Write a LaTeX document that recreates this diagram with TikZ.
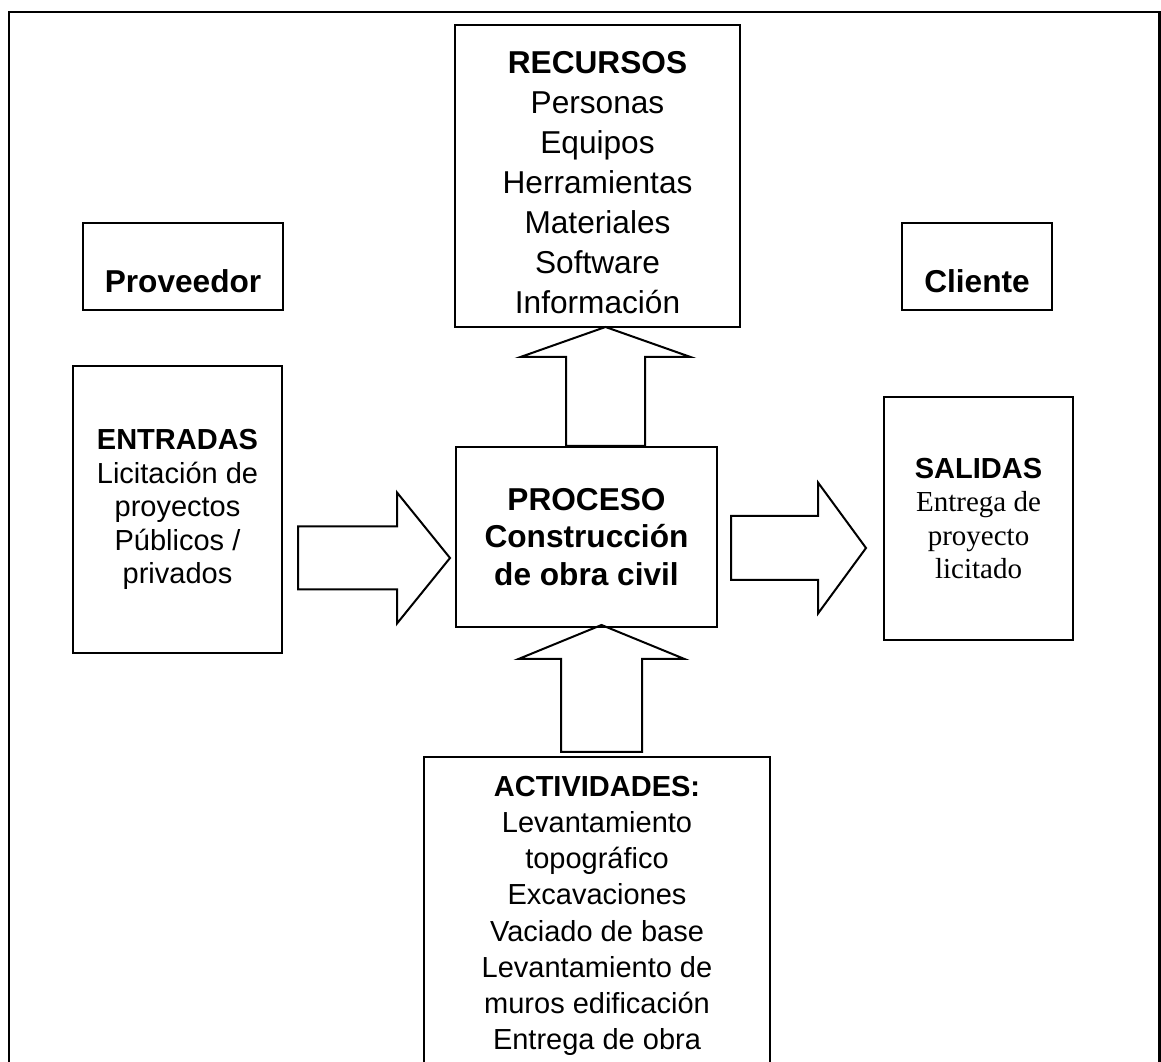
\documentclass[tikz,border=0pt]{standalone}
\usepackage{fontspec}
\setmainfont{Liberation Sans}
\newfontfamily\timesfont{Liberation Serif}

\begin{document}
\begin{tikzpicture}[
    procbox/.style={draw, line width=0.040000cm, inner sep=0pt, outer sep=0pt, align=center},
    blockarrow/.style={draw, line width=0.040000cm, line join=miter}]
            \useasboundingbox (0,0) rectangle (23.220000,21.220000);
            \clip (0,0) rectangle (23.220000,21.220000);

            % Drawing outer frame (open at the lower edge)
            \draw [line width=0.054000cm] (0.180000,-0.500000) -- (0.180000,20.980000) -- (23.190000,20.980000) -- (23.190000,-0.500000);%

            % Marking box RECURSOS
            \node [procbox, minimum width=5.700000cm, minimum height=6.040000cm, font=\fontsize{18}{22.8}\selectfont] (recursos) at (11.950000,17.700000) {\textbf{\rule{0pt}{0.700000cm}RECURSOS}\\Personas\\Equipos\\Herramientas\\Materiales\\Software\\Información};%

            % Marking box Proveedor
            \node [procbox, minimum width=4.000000cm, minimum height=1.740000cm, font=\fontsize{18}{21.6}\selectfont\bfseries] (proveedor) at (3.660000,15.890000) {\rule{0pt}{1.064000cm}Proveedor};%

            % Marking box Cliente
            \node [procbox, minimum width=3.000000cm, minimum height=1.740000cm, font=\fontsize{18}{21.6}\selectfont\bfseries] (cliente) at (19.540000,15.890000) {\rule{0pt}{1.064000cm}Cliente};%

            % Marking box ENTRADAS
            \node [procbox, minimum width=4.180000cm, minimum height=5.740000cm, font=\fontsize{16.5}{19.1}\selectfont] (entradas) at (3.550000,11.030000) {\textbf{ENTRADAS}\\Licitación de\\proyectos\\Públicos /\\privados};%

            % Marking box PROCESO
            \node [procbox, minimum width=5.220000cm, minimum height=3.600000cm, font=\fontsize{18}{21.3}\selectfont\bfseries] (proceso) at (11.730000,10.480000) {PROCESO\\Construcción\\de obra civil};%

            % Marking box SALIDAS
            \node [procbox, minimum width=3.780000cm, minimum height=4.860000cm, font=\fontsize{16.5}{18.9}\selectfont] (salidas) at (19.570000,10.850000) {\textbf{SALIDAS}\\{\timesfont Entrega de}\\{\timesfont proyecto}\\{\timesfont licitado}};%

            % Marking box ACTIVIDADES (runs past the lower edge)
            \node [procbox, anchor=north, minimum width=6.920000cm, inner ysep=0.380000cm, font=\fontsize{16.5}{20.6}\selectfont] (actividades) at (11.940000,6.080000) {\textbf{ACTIVIDADES:}\\Levantamiento\\topográfico\\Excavaciones\\Vaciado de base\\Levantamiento de\\muros edificación\\Entrega de obra};%

            % Drawing arrow from proceso up to recursos
            \coordinate (upTail) at (12.110000,12.300000);
            \coordinate (upTip) at (upTail |- recursos.south);
            \draw [blockarrow] (upTail) ++(-0.790000,0) -- ++(0,1.780000) -- ++(-0.910000,0) -- (upTip) -- ++(1.700000,-0.600000) -- ++(-0.910000,0) -- ++(0,-1.780000) -- cycle;%

            % Drawing arrow from entradas to proceso
            \coordinate (inTail) at (5.960000,10.060000);
            \coordinate (inTip) at (9.000000,10.060000);
            \draw [blockarrow] (inTail) ++(0,0.630000) -- ++(1.980000,0) -- ++(0,0.680000) -- (inTip) -- ++(-1.060000,-1.310000) -- ++(0,0.680000) -- ++(-1.980000,0) -- cycle;%

            % Drawing arrow from proceso to salidas
            \coordinate (outTail) at (14.620000,10.260000);
            \coordinate (outTip) at (17.320000,10.260000);
            \draw [blockarrow] (outTail) ++(0,0.640000) -- ++(1.740000,0) -- ++(0,0.670000) -- (outTip) -- ++(-0.960000,-1.310000) -- ++(0,0.670000) -- ++(-1.740000,0) -- cycle;%

            % Drawing arrow from actividades up to proceso
            \coordinate (actTail) at (12.030000,6.180000);
            \coordinate (actTip) at (12.030000,8.720000);
            \draw [blockarrow] (actTail) ++(-0.810000,0) -- ++(0,1.860000) -- ++(-0.850000,0) -- (actTip) -- ++(1.660000,-0.680000) -- ++(-0.850000,0) -- ++(0,-1.860000) -- cycle;%
\end{tikzpicture}
\end{document}
